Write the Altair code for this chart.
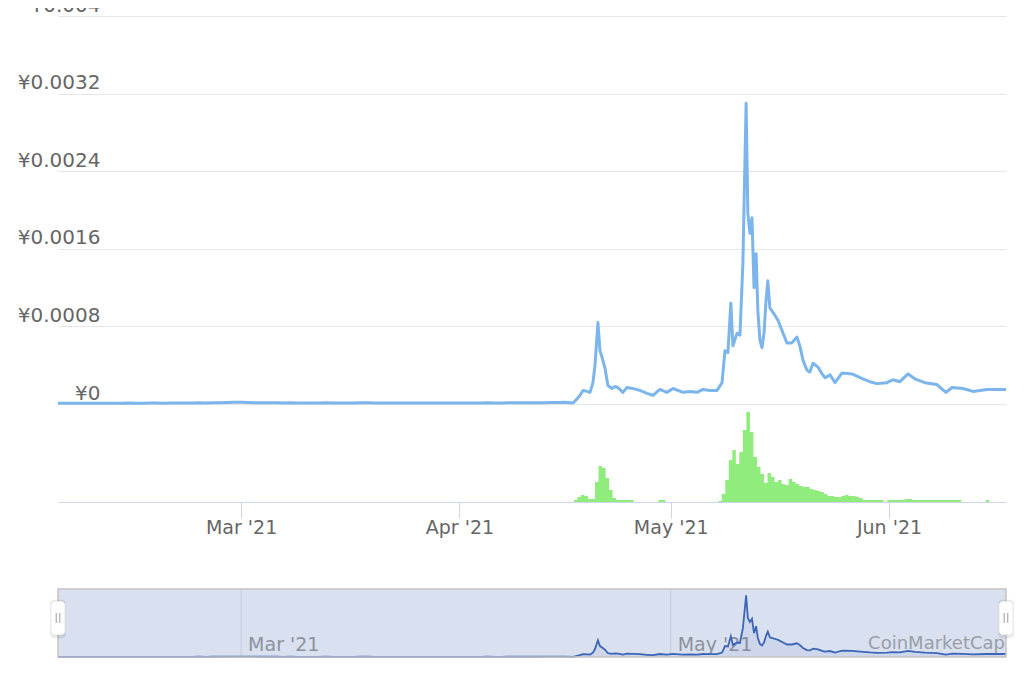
import altair as alt
import pandas as pd

# ---- price (CNY): daily while flat, Feb 3 - Apr 16 ----
price_feb = [0.000008, 0.000008, 0.000009, 0.000008, 0.000008, 0.000009, 0.000009, 0.000008,
             0.000008, 0.000009, 0.000010, 0.000009, 0.000009, 0.000010, 0.000010, 0.000009,
             0.000010, 0.000011, 0.000010, 0.000011, 0.000012, 0.000011, 0.000012, 0.000013,
             0.000015, 0.000017]
price_mar = [0.000019, 0.000016, 0.000014, 0.000013, 0.000012, 0.000012, 0.000011, 0.000012,
             0.000011, 0.000011, 0.000010, 0.000011, 0.000012, 0.000011, 0.000011, 0.000010,
             0.000011, 0.000013, 0.000012, 0.000011, 0.000011, 0.000010, 0.000010, 0.000011,
             0.000010, 0.000010, 0.000011, 0.000010, 0.000010, 0.000011, 0.000010]
price_apr_early = [0.000010, 0.000011, 0.000010, 0.000011, 0.000012, 0.000011, 0.000011,
                   0.000012, 0.000012, 0.000013, 0.000012, 0.000013, 0.000014, 0.000015,
                   0.000016, 0.000018]

# ---- price: read point by point where it moves, Apr 17 - Jun 18 ----
active_times = [
    "2021-04-17T03:00:00", "2021-04-17T13:00:00", "2021-04-18T03:00:00", "2021-04-18T13:00:00",
    "2021-04-19T03:00:00", "2021-04-19T13:00:00", "2021-04-19T23:00:00", "2021-04-20T06:00:00",
    "2021-04-20T16:00:00", "2021-04-20T23:00:00", "2021-04-21T06:00:00", "2021-04-21T16:00:00",
    "2021-04-22T02:00:00", "2021-04-22T16:00:00", "2021-04-23T02:00:00", "2021-04-23T12:00:00",
    "2021-04-24T05:00:00", "2021-04-24T19:00:00", "2021-04-25T15:00:00", "2021-04-26T15:00:00",
    "2021-04-27T15:00:00", "2021-04-28T12:00:00", "2021-04-29T11:00:00", "2021-04-30T11:00:00",
    "2021-05-01T08:00:00", "2021-05-02T18:00:00", "2021-05-03T18:00:00", "2021-05-04T18:00:00",
    "2021-05-05T14:00:00", "2021-05-06T14:00:00", "2021-05-07T14:00:00", "2021-05-08T07:00:00",
    "2021-05-08T17:00:00", "2021-05-09T03:00:00", "2021-05-09T13:00:00", "2021-05-09T20:00:00",
    "2021-05-10T10:00:00", "2021-05-10T20:00:00", "2021-05-11T06:00:00", "2021-05-11T17:00:00",
    "2021-05-11T23:00:00", "2021-05-12T06:00:00", "2021-05-12T13:00:00", "2021-05-12T20:00:00",
    "2021-05-13T03:00:00", "2021-05-13T09:00:00", "2021-05-13T16:00:00", "2021-05-13T23:00:00",
    "2021-05-14T06:00:00", "2021-05-14T13:00:00", "2021-05-14T19:00:00", "2021-05-15T02:00:00",
    "2021-05-15T16:00:00", "2021-05-16T06:00:00", "2021-05-16T23:00:00", "2021-05-17T12:00:00",
    "2021-05-18T05:00:00", "2021-05-18T22:00:00", "2021-05-19T08:00:00", "2021-05-19T19:00:00",
    "2021-05-20T08:00:00", "2021-05-20T18:00:00", "2021-05-21T05:00:00", "2021-05-21T22:00:00",
    "2021-05-22T12:00:00", "2021-05-22T22:00:00", "2021-05-23T15:00:00", "2021-05-24T08:00:00",
    "2021-05-25T08:00:00", "2021-05-26T18:00:00", "2021-05-28T07:00:00", "2021-05-29T07:00:00",
    "2021-05-30T07:00:00", "2021-05-31T17:00:00", "2021-06-01T13:00:00", "2021-06-02T13:00:00",
    "2021-06-03T17:00:00", "2021-06-04T16:00:00", "2021-06-06T02:00:00", "2021-06-07T19:00:00",
    "2021-06-09T02:00:00", "2021-06-09T23:00:00", "2021-06-11T12:00:00", "2021-06-12T22:00:00",
    "2021-06-14T22:00:00", "2021-06-16T18:00:00", "2021-06-18T04:00:00",
]
active_prices = [
    0.00001, 0.00004, 0.00009, 0.00014, 0.00013, 0.00012, 0.00022, 0.00040,
    0.00084, 0.00055, 0.00048, 0.00037, 0.00019, 0.00016, 0.00018, 0.00017,
    0.00012, 0.00017, 0.00016, 0.00014, 0.00011, 0.00009, 0.00015, 0.00012,
    0.00016, 0.00012, 0.00013, 0.00012, 0.00015, 0.00014, 0.00014, 0.00022,
    0.00055, 0.00053, 0.00104, 0.00060, 0.00073, 0.00071, 0.00145, 0.00310,
    0.00196, 0.00176, 0.00192, 0.00120, 0.00155, 0.00096, 0.00066, 0.00058,
    0.00073, 0.00107, 0.00127, 0.00099, 0.00093, 0.00086, 0.00073, 0.00063,
    0.00063, 0.00069, 0.00060, 0.00045, 0.00035, 0.00033, 0.00042, 0.00038,
    0.00031, 0.00027, 0.00030, 0.00022, 0.00032, 0.00031, 0.00026, 0.00023,
    0.00021, 0.00022, 0.00025, 0.00023, 0.00031, 0.00026, 0.00022, 0.00020,
    0.00012, 0.00017, 0.00016, 0.00013, 0.00015, 0.00015, 0.00015,
]

# ---- volume (relative units), every 12 h from Apr 17 ----
vol_apr = [0, 2, 5, 7, 6, 3, 3, 20, 36, 34, 24, 12, 4, 2, 2, 2, 2, 2, 0, 0, 0, 0, 0, 0, 0, 2,
           2, 0]
vol_may = [0, 0, 0, 0, 0, 0, 0, 0, 0, 0, 0, 0, 0, 0,
           1, 8, 22, 42, 52, 38, 50, 72, 90, 70, 45, 35, 28, 19, 29, 25, 20, 22, 18, 17, 23, 20,
           18, 16, 15, 15, 13, 12, 11, 10, 8, 6, 6, 5, 5, 6, 7, 6, 6, 5, 4, 2, 2, 2, 2, 2, 2, 0]
vol_jun = [2, 2, 2, 2, 2, 3, 3, 2, 2, 2, 2, 2, 2, 2, 2, 2, 2, 2, 2, 2, 2,
           0, 0, 0, 0, 0, 0, 0, 2, 0, 0, 0, 0, 0, 0]

flat_dates = pd.date_range("2021-02-03", "2021-04-16", freq="D").strftime("%Y-%m-%dT%H:%M:%S").tolist()
price_df = pd.DataFrame({
    "date": flat_dates + active_times,
    "price": price_feb + price_mar + price_apr_early + active_prices,
})
vol_times = pd.date_range("2021-04-17", periods=125, freq="12h").strftime("%Y-%m-%dT%H:%M:%S").tolist()
vol_df = pd.DataFrame({"date": vol_times, "volume": vol_apr + vol_may + vol_jun})

range_start = "2021-02-03T00:00:00"
range_end = "2021-06-17T14:40:00"
nav_df = pd.DataFrame({"start": [range_start], "end": [range_end]})
handles_df = pd.DataFrame({"date": [range_start, range_end]})
nav_ticks = pd.DataFrame({"date": ["2021-03-01T00:00:00", "2021-05-01T00:00:00"]})

FONT = "DejaVu Sans"

x_scale = alt.Scale(domain=[alt.DateTime(year=2021, month=2, date=3),
                            alt.DateTime(year=2021, month=6, date=17, hours=14, minutes=40)])

x_axis = alt.Axis(format="%b '%y", tickCount={"interval": "month", "step": 1}, title=None,
                  grid=False, domainColor="#ccd6eb", tickColor="#ccd6eb", tickSize=16,
                  labelFontSize=19, labelColor="#666666", labelFont=FONT, labelPadding=0,
                  offset=-156, labelFlush=False, labelOverlap=False)

y_axis = alt.Axis(values=[0, 0.0008, 0.0016, 0.0024, 0.0032, 0.004],
                  labelExpr="'¥' + format(datum.value, '.4~f')",
                  grid=True, gridColor="#e6e6e6", domain=False, ticks=False, tickSize=0,
                  labelAlign="right", labelBaseline="alphabetic", labelPadding=-42,
                  labelOffset=-5, labelFontSize=20, labelColor="#666666", labelFont=FONT,
                  title=None)

price_line = alt.Chart(price_df).mark_line(color="#7cb5ec", strokeWidth=3, clip=True,
                                           strokeJoin="round").encode(
    x=alt.X("date:T", scale=x_scale, axis=x_axis),
    y=alt.Y("price:Q", scale=alt.Scale(domain=[0, 0.004], range=[388, 0]), axis=y_axis),
)

vol = alt.Chart(vol_df).mark_area(color="#90ed7d", interpolate="step", clip=True).encode(
    x="date:T",
    y=alt.Y("volume:Q", scale=alt.Scale(domain=[0, 90], range=[486, 396]), axis=None),
)

mask = alt.Chart(nav_df).mark_rect(color="#d9e0f0").encode(
    x="start:T", x2="end:T", y=alt.value(573), y2=alt.value(641))

nav_grid = alt.Chart(nav_ticks).mark_rule(color="#c3cadb", strokeWidth=1).encode(
    x="date:T", y=alt.value(573), y2=alt.value(641))

nav_labels = alt.Chart(nav_ticks).mark_text(align="left", dx=7, baseline="alphabetic",
                                            fontSize=19, font=FONT, color="#8d929c").encode(
    x="date:T", y=alt.value(635), text=alt.Text("date:T", format="%b '%y"))

nav_y = alt.Scale(domain=[0, 0.00312], range=[641, 579])
nav_area = alt.Chart(price_df).mark_area(color="#335cad", opacity=0.07, clip=True).encode(
    x="date:T", y=alt.Y("price:Q", scale=nav_y, axis=None))
nav_line = alt.Chart(price_df).mark_line(color="#3d65b6", strokeWidth=1.8, clip=True).encode(
    x="date:T", y=alt.Y("price:Q", scale=nav_y, axis=None))

outline = alt.Chart(nav_df).mark_rect(fillOpacity=0, stroke="#c4c4c4", strokeWidth=1.5).encode(
    x="start:T", x2="end:T", y=alt.value(573), y2=alt.value(641))

watermark = alt.Chart(nav_df).mark_text(align="right", baseline="alphabetic", dx=-1,
                                        fontSize=18, font=FONT, color="#9a9ea7").encode(
    x="end:T", y=alt.value(633), text=alt.value("CoinMarketCap"))

handle_path = ("M-0.42,-0.78 A0.22,0.22 0 0 1 -0.2,-1 L0.2,-1 A0.22,0.22 0 0 1 0.42,-0.78 "
               "L0.42,0.78 A0.22,0.22 0 0 1 0.2,1 L-0.2,1 A0.22,0.22 0 0 1 -0.42,0.78 Z")
shadow = alt.Chart(handles_df).mark_point(shape=handle_path, filled=True, color="#000000",
                                          opacity=0.08, size=1480).encode(
    x="date:T", y=alt.value(603))
handle = alt.Chart(handles_df).mark_point(shape=handle_path, filled=True, color="#ffffff",
                                          opacity=1, size=1090, stroke="#ececec",
                                          strokeWidth=1).encode(
    x="date:T", y=alt.value(602))
hl1 = alt.Chart(handles_df).mark_rule(color="#9c9c9c", xOffset=-1.8).encode(
    x="date:T", y=alt.value(597), y2=alt.value(607))
hl2 = alt.Chart(handles_df).mark_rule(color="#9c9c9c", xOffset=1.8).encode(
    x="date:T", y=alt.value(597), y2=alt.value(607))

chart = alt.layer(
    price_line, vol, mask, nav_grid, nav_labels, nav_area, nav_line, outline, watermark,
    shadow, handle, hl1, hl2
).resolve_scale(y="independent").properties(
    width=948, height=642,
    autosize=alt.AutoSizeParams(type="none"),
    padding={"left": 50, "top": 8, "right": 8, "bottom": 10},
    background="#ffffff",
).configure_view(stroke=None)

chart.save("out.html", embed_options={"renderer": "svg", "actions": False})
